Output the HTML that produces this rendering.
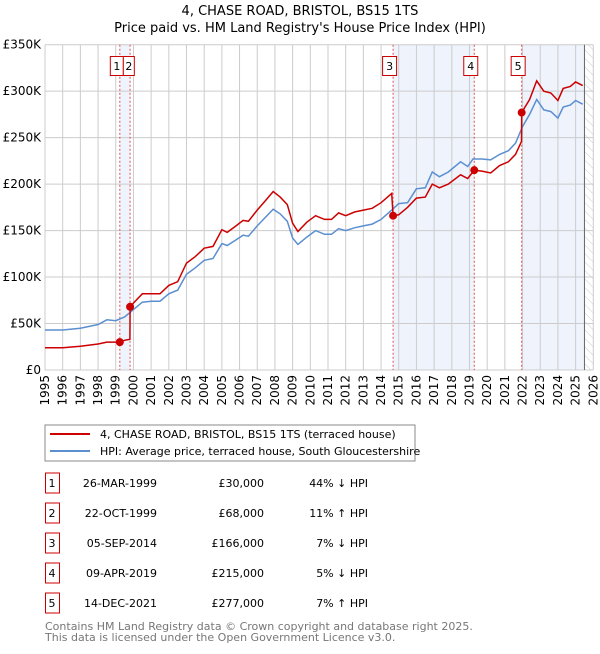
<!DOCTYPE html>
<html><head><meta charset="utf-8"><style>
body{margin:0;background:#fff;font-family:"DejaVu Sans","Liberation Sans",sans-serif;}
svg text{font-family:"DejaVu Sans","Liberation Sans",sans-serif;}
</style></head><body>
<svg id="chart" width="600" height="650" xmlns="http://www.w3.org/2000/svg">
<defs><pattern id="hatch" width="6" height="6" patternUnits="userSpaceOnUse" patternTransform="rotate(-45)"><line x1="0" y1="0" x2="0" y2="6" stroke="#ccc" stroke-width="1"/></pattern></defs>
<text x="300" y="15" text-anchor="middle" font-size="13">4, CHASE ROAD, BRISTOL, BS15 1TS</text>
<text x="300" y="32" text-anchor="middle" font-size="13">Price paid vs. HM Land Registry's House Price Index (HPI)</text>
<g id="plot"></g>
<g>
<rect x="45" y="425" width="370" height="36" fill="#fff" stroke="#888"/>
<line x1="50" y1="434" x2="90" y2="434" stroke="#cc0000" stroke-width="2"/>
<text x="100" y="438" font-size="11">4, CHASE ROAD, BRISTOL, BS15 1TS (terraced house)</text>
<line x1="50" y1="451" x2="90" y2="451" stroke="#5b8fd0" stroke-width="2"/>
<text x="100" y="455" font-size="11">HPI: Average price, terraced house, South Gloucestershire</text>
</g>
<g id="table" font-size="11"></g>
<text x="45" y="630" font-size="11" fill="#777">Contains HM Land Registry data © Crown copyright and database right 2025.</text>
<text x="45" y="641" font-size="11" fill="#777">This data is licensed under the Open Government Licence v3.0.</text>
</svg>
<script>
const hpiYears=[1995,1996,1997,1998,1998.5,1999,1999.5,2000,2000.5,2001,2001.5,2002,2002.5,2003,2003.5,2004,2004.5,2005,2005.3,2005.8,2006.2,2006.5,2007,2007.5,2007.9,2008.3,2008.7,2009,2009.3,2009.8,2010.3,2010.8,2011.2,2011.6,2012,2012.5,2013,2013.5,2014,2014.6,2015,2015.5,2016,2016.5,2016.9,2017.3,2017.8,2018.5,2018.9,2019.2,2019.7,2020.2,2020.7,2021.2,2021.6,2022,2022.4,2022.8,2023.2,2023.6,2024,2024.3,2024.7,2025,2025.4];
const hpiValues=[43,43,45,49,54,53,57,65,73,74,74,82,86,103,110,118,120,136,134,140,145,144,155,165,173,168,160,142,135,143,150,146,146,152,150,153,155,157,162,172,179,180,195,196,213,208,213,224,219,227,227,226,232,236,244,262,275,291,280,278,271,283,285,290,286];
const priceYears=[1995,1996,1997,1998,1998.5,1999,1999.23,1999.5,1999.8,1999.81,2000,2000.5,2001,2001.5,2002,2002.5,2003,2003.5,2004,2004.5,2005,2005.3,2005.8,2006.2,2006.5,2007,2007.5,2007.9,2008.3,2008.7,2009,2009.3,2009.8,2010.3,2010.8,2011.2,2011.6,2012,2012.5,2013,2013.5,2014,2014.6,2014.68,2015,2015.5,2016,2016.5,2016.9,2017.3,2017.8,2018.5,2018.9,2019.27,2019.7,2020.2,2020.7,2021.2,2021.6,2021.94,2021.95,2022.4,2022.8,2023.2,2023.6,2024,2024.3,2024.7,2025,2025.4];
const priceValues=[24,24,25.5,28,30,30,30,32,33,68,72,82,82,82,91,95,115,122,131,133,151,148,155,161,160,172,183,192,186,178,158,149,159,166,162,162,169,166,170,172,174,180,190,166,167,175,185,186,200,196,200,210,206,215,214,212,220,224,232,246,277,291,311,300,298,290,303,305,310,306];
const saleLabels=["1","2","3","4","5"];
const saleYears=[1999.23,1999.81,2014.68,2019.27,2021.95];
const saleValues=[30,68,166,215,277];
const saleDates=["26-MAR-1999","22-OCT-1999","05-SEP-2014","09-APR-2019","14-DEC-2021"];
const salePrices=["£30,000","£68,000","£166,000","£215,000","£277,000"];
const saleDiffs=["44% ↓ HPI","11% ↑ HPI","7% ↓ HPI","5% ↓ HPI","7% ↑ HPI"];
const yTicks=[0,50,100,150,200,250,300,350];
const yTickLabels=["£0","£50K","£100K","£150K","£200K","£250K","£300K","£350K"];
const xTicks=[1995,1996,1997,1998,1999,2000,2001,2002,2003,2004,2005,2006,2007,2008,2009,2010,2011,2012,2013,2014,2015,2016,2017,2018,2019,2020,2021,2022,2023,2024,2025,2026];
const dataEnd=2025.5;

const NS="http://www.w3.org/2000/svg";
const X0=45,X1=593.3,Y0=370,Y1=44.7;
const xs=v=>X0+(v-1995)/(2026-1995)*(X1-X0);
const ys=v=>Y0-v/350*(Y0-Y1);
const plot=document.getElementById('plot');
function mk(tag,attrs,parent){const e=document.createElementNS(NS,tag);for(const k in attrs)e.setAttribute(k,attrs[k]);(parent||plot).appendChild(e);return e;}
let s=mk('rect',{x:xs(saleYears[0]),y:Y1,width:xs(saleYears[1])-xs(saleYears[0]),height:Y0-Y1,fill:'#eef3fc'});


s=mk('rect',{x:xs(saleYears[2]),y:Y1,width:xs(saleYears[3])-xs(saleYears[2]),height:Y0-Y1,fill:'#eef3fc'});


s=mk('rect',{x:xs(saleYears[4]),y:Y1,width:xs(dataEnd)-xs(saleYears[4]),height:Y0-Y1,fill:'#eef3fc'});


s=mk('rect',{x:xs(dataEnd),y:Y1,width:X1-xs(dataEnd),height:Y0-Y1,fill:'url(#hatch)'});


xTicks.forEach(t=>{const l=mk('line',{x1:xs(t),x2:xs(t),y1:Y1,y2:Y0,stroke:'#ccc'});


const tx=mk('text',{x:0,y:0,'font-size':12,'text-anchor':'end',transform:`translate(${xs(t)+4},${Y0+5}) rotate(-90)`});tx.textContent=t;

});
yTicks.forEach((t,i)=>{const l=mk('line',{x1:X0,x2:X1,y1:ys(t),y2:ys(t),stroke:'#ccc'});


const tx=mk('text',{x:X0-4,y:ys(t)+4,'font-size':12,'text-anchor':'end'});tx.textContent=yTickLabels[i];

});
let dl=mk('line',{x1:xs(dataEnd),x2:xs(dataEnd),y1:Y1,y2:Y0,stroke:'#666'});


saleYears.forEach((y,i)=>{const l=mk('line',{x1:xs(y),x2:xs(y),y1:Y1,y2:Y0,stroke:'#e05050','stroke-dasharray':'2,2'});

});
const path=(xv,yv)=>xv.map((x,i)=>(i?'L':'M')+xs(x).toFixed(1)+','+ys(yv[i]).toFixed(1)).join('');
let hp=mk('path',{d:path(hpiYears,hpiValues),fill:'none',stroke:'#5b8fd0','stroke-width':1.5});


let pp=mk('path',{d:path(priceYears,priceValues),fill:'none',stroke:'#cc0000','stroke-width':1.5});


saleYears.forEach((y,i)=>{const c=mk('circle',{cx:xs(y),cy:ys(saleValues[i]),r:4,fill:'#cc0000'});


const bx=i===0?xs(y)-9.5:i===1?xs(saleYears[0])+3.5:xs(y)-10.5;
const bw=i<2?(i===0?13:11):14;
const r=mk('rect',{x:bx,y:56.5,width:bw,height:19,fill:'#fff',stroke:'#cc0000'});


const t=mk('text',{x:bx+bw/2,y:70,'font-size':11,'text-anchor':'middle'});t.textContent=saleLabels[i];

});
const tb=document.getElementById('table');
saleLabels.forEach((lab,i)=>{const cy=483+i*30;
const r=mk('rect',{x:45.5,y:cy-10,width:14,height:20,fill:'none',stroke:'#cc0000'},tb);


const cells=[[52,'middle',lab],[157,'end',saleDates[i]],[264,'end',salePrices[i]],[368,'end',saleDiffs[i]]];
cells.forEach(c=>{const t=mk('text',{x:c[0],y:cy+4,'text-anchor':c[1]},tb);t.textContent=c[2];

});});
</script>
</body></html>
